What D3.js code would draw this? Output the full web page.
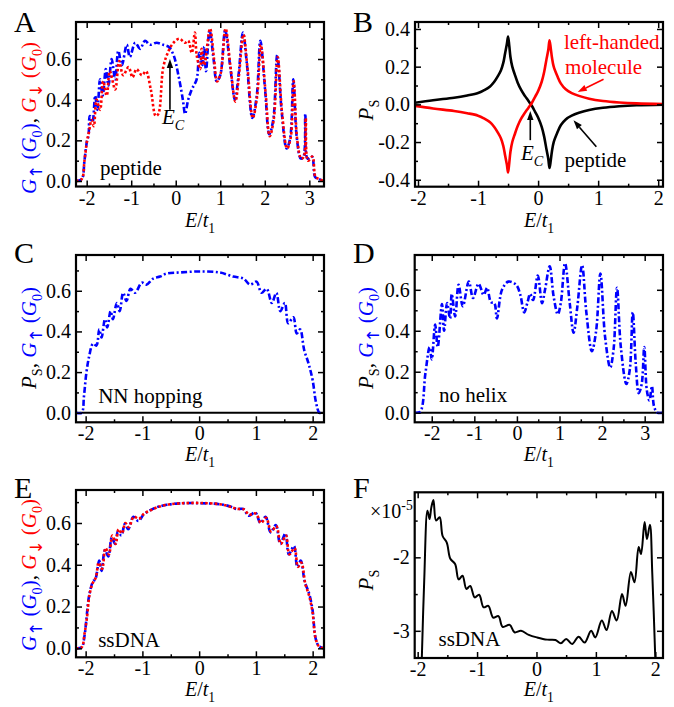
<!DOCTYPE html>
<meta charset="utf-8">
<style>
  body { margin: 0; background: #fff; }
  text { font-family: "Liberation Serif", "Times New Roman", serif; white-space: pre; }
</style>
<body>
<script src="https://d3js.org/d3.v7.min.js"></script>
<script>
// ---- data (E/t1, value) ----
var peptideUpA = [[-2.24,0],[-2.11,0.01],[-2.05,0.1],[-1.99,0.2],[-1.96,0.22],[-1.93,0.32],[-1.87,0.29],[-1.81,0.42],[-1.76,0.35],[-1.70,0.50],[-1.64,0.42],[-1.57,0.55],[-1.51,0.47],[-1.44,0.60],[-1.36,0.50],[-1.29,0.64],[-1.21,0.57],[-1.10,0.67],[-1.03,0.61],[-0.91,0.68],[-0.80,0.65],[-0.69,0.69],[-0.58,0.67],[-0.43,0.68],[-0.28,0.67],[-0.16,0.66],[-0.05,0.62],[0.06,0.52],[0.16,0.40],[0.21,0.33],[0.28,0.40],[0.36,0.45],[0.47,0.50],[0.53,0.63],[0.60,0.57],[0.64,0.66],[0.68,0.54],[0.76,0.74],[0.85,0.60],[0.92,0.49],[1.00,0.52],[1.11,0.74],[1.22,0.57],[1.33,0.40],[1.41,0.52],[1.51,0.73],[1.60,0.57],[1.72,0.31],[1.82,0.42],[1.90,0.69],[2.01,0.44],[2.10,0.23],[2.19,0.30],[2.28,0.62],[2.38,0.34],[2.49,0.16],[2.57,0.21],[2.64,0.50],[2.72,0.21],[2.81,0.11],[2.87,0.12],[2.91,0.33],[2.96,0.11],[3.06,0.12],[3.13,0.02],[3.21,0.01],[3.33,0]];
var peptideDownA = [[-2.24,0],[-2.11,0.01],[-2.05,0.1],[-1.99,0.2],[-1.95,0.24],[-1.89,0.30],[-1.84,0.27],[-1.78,0.40],[-1.70,0.35],[-1.63,0.49],[-1.55,0.42],[-1.48,0.54],[-1.36,0.45],[-1.27,0.59],[-1.18,0.52],[-1.06,0.56],[-0.97,0.51],[-0.88,0.55],[-0.76,0.52],[-0.67,0.54],[-0.56,0.45],[-0.45,0.32],[-0.39,0.33],[-0.28,0.56],[-0.16,0.64],[-0.05,0.68],[0.08,0.70],[0.21,0.68],[0.28,0.69],[0.36,0.63],[0.43,0.73],[0.47,0.62],[0.55,0.55],[0.58,0.65],[0.64,0.57],[0.77,0.75],[0.86,0.60],[0.93,0.49],[1.01,0.53],[1.12,0.75],[1.23,0.56],[1.34,0.39],[1.42,0.52],[1.52,0.72],[1.61,0.56],[1.73,0.31],[1.83,0.42],[1.91,0.67],[2.02,0.43],[2.11,0.22],[2.20,0.30],[2.29,0.61],[2.39,0.33],[2.50,0.16],[2.58,0.21],[2.65,0.49],[2.73,0.20],[2.82,0.11],[2.88,0.12],[2.92,0.31],[2.97,0.10],[3.07,0.12],[3.14,0.02],[3.22,0.01],[3.33,0]];

var polPeptideB = [[-2.1,0.006],[-1.75,0.022],[-1.4,0.035],[-1.18,0.047],[-1.0,0.06],[-0.9,0.075],[-0.8,0.095],[-0.73,0.12],[-0.67,0.15],[-0.62,0.18],[-0.58,0.22],[-0.55,0.27],[-0.52,0.32],[-0.5,0.36],[-0.48,0.31],[-0.46,0.25],[-0.43,0.2],[-0.39,0.16],[-0.34,0.115],[-0.28,0.075],[-0.22,0.045],[-0.16,0.018],[-0.1,-0.01],[-0.05,-0.04],[0.0,-0.07],[0.06,-0.12],[0.1,-0.17],[0.14,-0.24],[0.17,-0.29],[0.19,-0.338],[0.21,-0.3],[0.23,-0.25],[0.26,-0.2],[0.32,-0.15],[0.38,-0.11],[0.46,-0.08],[0.56,-0.06],[0.68,-0.045],[0.85,-0.03],[1.08,-0.018],[1.35,-0.01],[1.64,-0.005],[2.1,-0.002]];
var polLeftB = [[-2.1,-0.006],[-1.75,-0.022],[-1.4,-0.035],[-1.18,-0.047],[-1.0,-0.06],[-0.9,-0.075],[-0.8,-0.095],[-0.73,-0.12],[-0.67,-0.15],[-0.62,-0.18],[-0.58,-0.22],[-0.55,-0.27],[-0.52,-0.32],[-0.5,-0.362],[-0.48,-0.31],[-0.46,-0.25],[-0.43,-0.2],[-0.39,-0.16],[-0.34,-0.115],[-0.28,-0.075],[-0.22,-0.045],[-0.16,-0.018],[-0.1,0.01],[-0.05,0.04],[0.0,0.07],[0.06,0.12],[0.1,0.17],[0.14,0.24],[0.17,0.29],[0.19,0.34],[0.21,0.3],[0.23,0.25],[0.26,0.2],[0.32,0.15],[0.38,0.11],[0.46,0.08],[0.56,0.06],[0.68,0.045],[0.85,0.03],[1.08,0.018],[1.35,0.01],[1.64,0.005],[2.1,0.002]];

var nnUpC = [[-2.17,0],[-2.07,0],[-2.03,0.08],[-1.99,0.19],[-1.94,0.275],[-1.87,0.34],[-1.81,0.33],[-1.76,0.41],[-1.72,0.37],[-1.66,0.46],[-1.62,0.42],[-1.56,0.50],[-1.52,0.46],[-1.45,0.54],[-1.40,0.50],[-1.34,0.59],[-1.28,0.55],[-1.21,0.61],[-1.13,0.59],[-1.01,0.64],[-0.93,0.63],[-0.81,0.66],[-0.69,0.67],[-0.57,0.685],[-0.34,0.69],[0.0,0.695],[0.36,0.69],[0.6,0.67],[0.78,0.66],[0.9,0.63],[1.01,0.645],[1.1,0.59],[1.19,0.61],[1.28,0.54],[1.36,0.59],[1.43,0.5],[1.51,0.54],[1.57,0.44],[1.66,0.47],[1.72,0.39],[1.78,0.41],[1.85,0.31],[1.93,0.24],[2.0,0.16],[2.06,0.05],[2.12,0],[2.2,0]];
var nnPolC = [[-2.17,0],[2.2,0]];

var noHelixUpD = [[-2.4,0],[-2.27,0.005],[-2.15,0.19],[-2.05,0.32],[-2.0,0.26],[-1.92,0.43],[-1.86,0.32],[-1.76,0.53],[-1.71,0.40],[-1.64,0.535],[-1.57,0.46],[-1.53,0.58],[-1.45,0.47],[-1.37,0.625],[-1.27,0.52],[-1.13,0.64],[-1.03,0.56],[-0.9,0.63],[-0.78,0.575],[-0.7,0.61],[-0.61,0.54],[-0.53,0.535],[-0.47,0.46],[-0.35,0.60],[-0.2,0.64],[-0.02,0.625],[0.08,0.575],[0.17,0.49],[0.25,0.54],[0.31,0.58],[0.38,0.55],[0.49,0.67],[0.59,0.535],[0.66,0.60],[0.77,0.715],[0.86,0.57],[0.96,0.48],[1.03,0.535],[1.13,0.73],[1.24,0.535],[1.33,0.39],[1.42,0.52],[1.53,0.72],[1.63,0.49],[1.76,0.30],[1.86,0.40],[1.96,0.68],[2.07,0.37],[2.19,0.22],[2.27,0.31],[2.35,0.61],[2.44,0.32],[2.57,0.14],[2.65,0.21],[2.72,0.49],[2.79,0.24],[2.86,0.095],[2.93,0.14],[2.99,0.32],[3.05,0.11],[3.11,0.06],[3.17,0.13],[3.22,0.03],[3.3,0],[3.43,0]];
var noHelixPolD = [[-2.4,0],[3.43,0]];

var dnaUpE = [[-2.17,0],[-2.07,0.005],[-2.02,0.06],[-1.99,0.13],[-1.94,0.25],[-1.87,0.32],[-1.83,0.33],[-1.76,0.42],[-1.72,0.37],[-1.66,0.47],[-1.60,0.44],[-1.54,0.53],[-1.48,0.50],[-1.43,0.56],[-1.37,0.54],[-1.31,0.595],[-1.25,0.57],[-1.16,0.63],[-1.07,0.61],[-0.98,0.64],[-0.87,0.66],[-0.75,0.675],[-0.57,0.687],[-0.34,0.694],[0.0,0.695],[0.36,0.69],[0.54,0.68],[0.66,0.667],[0.78,0.667],[0.87,0.635],[0.99,0.65],[1.08,0.60],[1.17,0.63],[1.26,0.555],[1.35,0.59],[1.43,0.50],[1.52,0.55],[1.58,0.45],[1.67,0.49],[1.73,0.39],[1.79,0.42],[1.86,0.32],[1.94,0.26],[2.0,0.18],[2.05,0.05],[2.11,0.01],[2.2,0]];
var dnaDownE = [[-2.17,0],[-2.07,0.005],[-2.02,0.07],[-1.98,0.14],[-1.93,0.26],[-1.88,0.31],[-1.82,0.34],[-1.77,0.41],[-1.71,0.38],[-1.65,0.48],[-1.59,0.45],[-1.53,0.54],[-1.47,0.50],[-1.42,0.57],[-1.36,0.55],[-1.30,0.60],[-1.24,0.58],[-1.15,0.63],[-1.06,0.62],[-0.97,0.645],[-0.86,0.66],[-0.74,0.675],[-0.56,0.688],[-0.33,0.694],[0.0,0.696],[0.37,0.69],[0.55,0.678],[0.67,0.668],[0.79,0.665],[0.88,0.64],[1.0,0.645],[1.09,0.60],[1.18,0.625],[1.27,0.56],[1.36,0.585],[1.44,0.50],[1.53,0.54],[1.59,0.45],[1.68,0.48],[1.74,0.39],[1.80,0.41],[1.87,0.31],[1.94,0.25],[2.0,0.17],[2.05,0.05],[2.11,0.01],[2.2,0]];

// P_S in units of 1e-5
var dnaPolF = [[-1.93,-3.37],[-1.89,-2.32],[-1.835,-1.365],[-1.80,-1.48],[-1.77,-1.32],[-1.735,-1.22],[-1.69,-1.50],[-1.63,-1.455],[-1.58,-1.71],[-1.51,-1.80],[-1.45,-2.02],[-1.37,-2.09],[-1.31,-2.30],[-1.245,-2.25],[-1.18,-2.43],[-1.115,-2.39],[-1.04,-2.545],[-0.965,-2.51],[-0.89,-2.68],[-0.81,-2.66],[-0.73,-2.82],[-0.64,-2.80],[-0.57,-2.945],[-0.45,-2.92],[-0.37,-3.02],[-0.26,-3.0],[-0.13,-3.055],[0.01,-3.09],[0.18,-3.12],[0.32,-3.125],[0.41,-3.17],[0.50,-3.11],[0.60,-3.18],[0.71,-3.08],[0.81,-3.16],[0.92,-3.0],[0.99,-3.09],[1.10,-2.86],[1.18,-2.99],[1.27,-2.73],[1.35,-2.86],[1.44,-2.50],[1.50,-2.66],[1.59,-2.20],[1.65,-2.34],[1.72,-1.86],[1.76,-1.955],[1.82,-1.52],[1.86,-1.75],[1.91,-1.555],[1.95,-2.23],[2.0,-3.37]];

var ticksAD = [-2, -1, 0, 1, 2, 3], minorAD = [-1.5, -0.5, 0.5, 1.5, 2.5];
var ticks2 = [-2, -1, 0, 1, 2], minor2 = [-1.5, -0.5, 0.5, 1.5];
var gTicks = [0, 0.2, 0.4, 0.6], gMinor = [0.1, 0.3, 0.5, 0.7];
var pTicksB = [-0.4, -0.2, 0, 0.2, 0.4], pMinorB = [-0.3, -0.1, 0.1, 0.3];
var pTicksF = [-3, -2], pMinorF = [-2.5, -1.5];

var BLUE = "#0000ff", RED = "#ff0000", BLACK = "#000";
var DASHDOT = "6,2.5,2,2.5", DOTS = "2.5,2.2";
var FS = 21, TFS = 20, XFS = 20;

var svg = d3.select("body").append("svg").attr("width", 674).attr("height", 707);

function rich(sel, parts, size) {
  var cur = 0;
  parts.forEach(function(p) {
    var target = p.s == "sub" ? size * 0.3 : (p.s == "sup" ? -size * 0.4 : 0);
    var ts = sel.append("tspan").text(p.t).attr("fill", p.c || BLACK);
    if (p.i) ts.attr("font-style", "italic");
    if (p.s) ts.attr("font-size", size * (p.big ? 0.8 : 0.68));
    if (p.big) ts.attr("font-family", "DejaVu Sans, sans-serif");
    if (target != cur) ts.attr("dy", target - cur);
    cur = target;
  });
}

function arrow(g, x1, y1, x2, y2, color) {
  var a = Math.atan2(y2 - y1, x2 - x1), L = 9, W = 3.2;
  var bx = x2 - L * Math.cos(a), by = y2 - L * Math.sin(a);
  g.append("line").attr("x1", x1).attr("y1", y1).attr("x2", bx).attr("y2", by)
    .attr("stroke", color).attr("stroke-width", 1.6);
  g.append("path")
    .attr("d", "M" + x2 + "," + y2 + "L" + (bx + W * Math.sin(a)) + "," + (by - W * Math.cos(a)) +
      "L" + (bx - W * Math.sin(a)) + "," + (by + W * Math.cos(a)) + "Z")
    .attr("fill", color);
}

var upBlue = [{t:"G",i:1,c:BLUE},{t:"\u2191",s:"sub",big:1,c:BLUE},{t:" (",c:BLUE},{t:"G",i:1,c:BLUE},{t:"0",s:"sub",c:BLUE},{t:")",c:BLUE}];
var downRed = [{t:"G",i:1,c:RED},{t:"\u2193",s:"sub",big:1,c:RED},{t:" (",c:RED},{t:"G",i:1,c:RED},{t:"0",s:"sub",c:RED},{t:")",c:RED}];
var psLab = [{t:"P",i:1},{t:"S",s:"sub"}];
var gLab = upBlue.concat([{t:", "}], downRed);
var psgLab = [{t:"P",i:1},{t:"S",s:"sub"},{t:", "}].concat(upBlue);

var panels = [
  {name:"A", box:[76,22,324,186.5], xDom:[-2.24,3.33], yDom:[-0.027,0.782],
   xt:ticksAD, xm:minorAD, yt:gTicks, ym:gMinor, yf:function(d){return d.toFixed(1);},
   series:[{d:peptideUpA,c:BLUE,dash:DASHDOT},{d:peptideDownA,c:RED,dash:DOTS}],
   ylab:gLab, ylx:36, yly:118, lx:14, ly:31.5, xly:40,
   notes:[{t:"peptide",x:-1.7,y:0.032}],
   ec:{x:-0.31,y:0.28}, arrows:[{x1:-0.13,y1:0.35,x2:-0.13,y2:0.6,c:BLACK}]},
  {name:"B", box:[415,22,663,186.7], xDom:[-2.05,2.08], yDom:[-0.437,0.437],
   xt:ticks2, xm:minor2, yt:pTicksB, ym:pMinorB, yf:function(d){return d.toFixed(1);},
   series:[{d:polPeptideB,c:BLACK},{d:polLeftB,c:RED}],
   ylab:psLab, ylx:373, yly:110, lx:353, ly:31.5, xly:40,
   notes:[{t:"left-handed",x:0.43,y:0.294,c:RED},{t:"molecule",x:0.45,y:0.161,c:RED},{t:"peptide",x:0.44,y:-0.33}],
   ec:{x:-0.285,y:-0.295},
   arrows:[{x1:-0.13,y1:-0.19,x2:-0.13,y2:-0.035,c:BLACK},{x1:0.97,y1:-0.225,x2:0.59,y2:-0.085,c:BLACK},{x1:1.09,y1:0.133,x2:0.66,y2:0.066,c:RED}]},
  {name:"C", box:[76,255,324,422.3], xDom:[-2.17,2.2], yDom:[-0.047,0.776],
   xt:ticks2, xm:minor2, yt:gTicks, ym:gMinor, yf:function(d){return d.toFixed(1);},
   series:[{d:nnPolC,c:BLACK,w:2},{d:nnUpC,c:BLUE,dash:DASHDOT}],
   ylab:psgLab, ylx:36, yly:338, lx:14, ly:263, xly:39,
   notes:[{t:"NN hopping",x:-1.78,y:0.048}]},
  {name:"D", box:[414.7,255,663,422.3], xDom:[-2.4,3.43], yDom:[-0.047,0.77],
   xt:ticksAD, xm:minorAD, yt:gTicks, ym:gMinor, yf:function(d){return d.toFixed(1);},
   series:[{d:noHelixPolD,c:BLACK,w:2},{d:noHelixUpD,c:BLUE,dash:DASHDOT}],
   ylab:psgLab, ylx:373, yly:338, lx:353, ly:263, xly:39,
   notes:[{t:"no helix",x:-1.83,y:0.054}]},
  {name:"E", box:[76,490,324,657.3], xDom:[-2.17,2.2], yDom:[-0.043,0.758],
   xt:ticks2, xm:minor2, yt:gTicks, ym:gMinor, yf:function(d){return d.toFixed(1);},
   series:[{d:dnaUpE,c:BLUE,dash:DASHDOT},{d:dnaDownE,c:RED,dash:DOTS}],
   ylab:gLab, ylx:36, yly:575, lx:14, ly:498, xly:39,
   notes:[{t:"ssDNA",x:-1.78,y:0.006}]},
  {name:"F", box:[414.7,492.3,663,658], xDom:[-2.05,2.13], yDom:[-3.37,-1.115],
   xt:ticks2, xm:minor2, yt:pTicksF, ym:pMinorF, yf:function(d){return String(d);},
   series:[{d:dnaPolF,c:BLACK,w:2}],
   ylab:psLab, ylx:373, yly:580, lx:353, ly:498, xly:38.3,
   notes:[{t:"ssDNA",x:-1.65,y:-3.2}], exp:true}
];

panels.forEach(function(p) {
  var l = p.box[0], t = p.box[1], r = p.box[2], b = p.box[3];
  var x = d3.scaleLinear().domain(p.xDom).range([l, r]);
  var y = d3.scaleLinear().domain(p.yDom).range([b, t]);
  var g = svg.append("g");

  svg.append("clipPath").attr("id", "clip" + p.name)
    .append("rect").attr("x", l).attr("y", t).attr("width", r - l).attr("height", b - t);

  var line = d3.line().x(function(d){ return x(d[0]); }).y(function(d){ return y(d[1]); })
    .curve(d3.curveCatmullRom.alpha(0.5));
  var plot = g.append("g").attr("clip-path", "url(#clip" + p.name + ")");
  p.series.forEach(function(s) {
    plot.append("path").datum(s.d).attr("d", line)
      .attr("fill", "none").attr("stroke", s.c)
      .attr("stroke-width", s.w || 2.6)
      .attr("stroke-dasharray", s.dash || null);
  });

  function ax(axis, tr, vals, size, fmt, pad) {
    var a = g.append("g").attr("transform", tr)
      .call(axis.tickValues(vals).tickSize(size).tickPadding(pad || 6).tickFormat(fmt || function(){ return ""; }));
    a.select(".domain").remove();
    a.selectAll("line").attr("stroke-width", 1.5);
    a.selectAll("text").attr("font-size", TFS).attr("fill", BLACK)
      .attr("font-family", "Liberation Serif, Times New Roman, serif");
  }
  ax(d3.axisBottom(x), "translate(0," + b + ")", p.xt, -6, function(d){ return String(d); }, 4);
  ax(d3.axisBottom(x), "translate(0," + b + ")", p.xm, -3);
  ax(d3.axisTop(x), "translate(0," + t + ")", p.xt, -6);
  ax(d3.axisTop(x), "translate(0," + t + ")", p.xm, -3);
  ax(d3.axisLeft(y), "translate(" + l + ",0)", p.yt, -6, p.yf, 5);
  ax(d3.axisLeft(y), "translate(" + l + ",0)", p.ym, -3);
  ax(d3.axisRight(y), "translate(" + r + ",0)", p.yt, -6);
  ax(d3.axisRight(y), "translate(" + r + ",0)", p.ym, -3);

  g.append("rect").attr("x", l).attr("y", t).attr("width", r - l).attr("height", b - t)
    .attr("fill", "none").attr("stroke", BLACK).attr("stroke-width", 2.2);

  // x label
  var xl = g.append("text").attr("x", (l + r) / 2).attr("y", b + p.xly)
    .attr("text-anchor", "middle").attr("font-size", XFS);
  rich(xl, [{t:"E",i:1},{t:"/"},{t:"t",i:1},{t:"1",s:"sub"}], XFS);

  // y label
  var yl = g.append("text").attr("text-anchor", "middle").attr("font-size", FS)
    .attr("transform", "translate(" + p.ylx + "," + p.yly + ") rotate(-90)");
  rich(yl, p.ylab, FS);

  // panel letter
  g.append("text").attr("x", p.lx).attr("y", p.ly).text(p.name)
    .attr("font-family", "Liberation Sans, Arial, sans-serif").attr("font-size", 30);

  (p.notes || []).forEach(function(n) {
    g.append("text").attr("x", x(n.x)).attr("y", y(n.y)).text(n.t)
      .attr("font-size", FS).attr("fill", n.c || BLACK);
  });
  if (p.ec) {
    var ec = g.append("text").attr("x", x(p.ec.x)).attr("y", y(p.ec.y)).attr("font-size", FS);
    rich(ec, [{t:"E",i:1},{t:"C",i:1,s:"sub"}], FS);
  }
  (p.arrows || []).forEach(function(a) {
    arrow(g, x(a.x1), y(a.y1), x(a.x2), y(a.y2), a.c);
  });
  if (p.exp) {
    var ex = g.append("text").attr("x", l - 2).attr("y", t + 26).attr("text-anchor", "end").attr("font-size", 20);
    rich(ex, [{t:"\u00d710"},{t:"-5",s:"sup"}], 20);
  }
});
</script>
</body>
